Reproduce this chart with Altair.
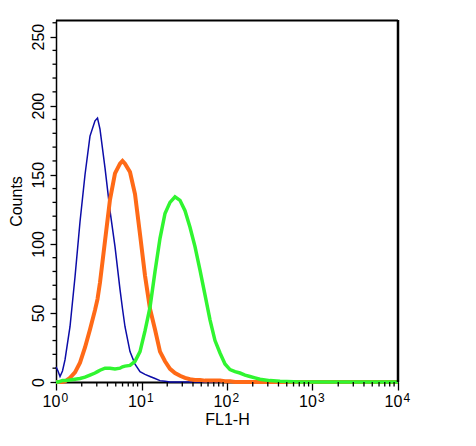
import altair as alt
import pandas as pd

fl1 = [1.00, 1.055, 1.114, 1.191, 1.274, 1.458, 1.668, 1.909, 2.184, 2.498,
       2.858, 3.058, 3.270, 3.742, 4.281, 4.898, 5.604, 5.995, 6.412, 7.336,
       8.395, 9.605, 10.99, 12.57, 14.39, 16.46, 18.83, 21.54, 24.65, 28.20,
       32.27, 36.92, 42.24, 48.33, 55.30, 63.27, 72.38, 82.83, 94.76, 108.4,
       124.1, 141.9, 162.4, 185.8, 212.6, 243.2, 278.3, 318.4, 416.8, 714.3,
       2745, 10000]
blue = [11, 8, 4, 8, 16, 40, 76, 116, 150, 178,
        189, 191, 183, 155, 124, 98, 67, 53, 40, 22,
        13, 7.5, 5.5, 4, 2.5, 1, 0.5, 0, 0, 0,
        0, 0, 0, 0, 0, 0, 0, 0, 0, 0,
        0, 0, 0, 0, 0, 0, 0, 0, 0, 0,
        0, 0]
orange = [0, 0, 0, 0, 0.5, 3, 7, 14, 25, 38,
          52, 60, 72, 102, 132, 151, 158, 160, 158, 152,
          136, 107, 77, 53, 38, 22, 15, 9.5, 6.5, 4.5,
          3, 2, 1.5, 1.5, 1, 1, 1, 1, 0.5, 0.5,
          0, 0, 0, 0, 0, 0, 0, 0, 0, 0,
          0, 0]
green = [0, 0, 0.5, 1, 1, 1.5, 2, 2.5, 3.5, 5,
         6.5, 7.5, 8.5, 10, 10, 9.5, 10, 11, 11.5, 12,
         15, 22, 37, 54, 80, 104, 122, 130, 134, 131.5,
         124, 112, 98, 81, 63, 45, 30, 21, 13, 9,
         7.5, 6.5, 5, 4, 3, 2, 1.5, 1, 0.5, 0,
         0, 0]

x_major = [1, 10, 100, 1000, 10000]
x_exponents = ["0", "1", "2", "3", "4"]
x_minor = [m * 10 ** k for k in range(4) for m in range(2, 10)]
y_major = [0, 50, 100, 150, 200, 250]
y_minor = [v for v in range(10, 261, 10) if v % 50 != 0]

W, H = 342, 362
FONT = "Liberation Sans"

xscale = alt.Scale(type="log", domain=[1, 10000], nice=False)
yscale = alt.Scale(domain=[0, 262], nice=False, zero=False)

xaxis = alt.Axis(values=x_major, title="FL1-H", tickSize=8,
                 labelExpr="'10'", labelOffset=-5,
                 labelFontSize=16, titleFontSize=16, labelPadding=3,
                 titlePadding=2, grid=False, domainColor="black",
                 domainWidth=2, tickColor="black", tickWidth=1.3, labelColor="black",
                 titleColor="black", titleFontWeight="normal",
                 labelFont=FONT, titleFont=FONT, labelFlush=False)
yaxis = alt.Axis(values=y_major, title="Counts", tickSize=6,
                 labelAngle=270, labelAlign="center", labelBaseline="bottom",
                 labelFontSize=16, titleFontSize=16, labelPadding=4,
                 titlePadding=6, grid=False, domainColor="black",
                 domainWidth=1.5, tickColor="black", tickWidth=1.3, labelColor="black",
                 titleColor="black", titleFontWeight="normal",
                 labelFont=FONT, titleFont=FONT, labelFlush=False)

df = pd.DataFrame({"fl1": fl1, "blue": blue, "orange": orange, "green": green})


def curve(col, color, width):
    return alt.Chart(df).mark_line(color=color, strokeWidth=width, interpolate="linear").encode(
        x=alt.X("fl1:Q", scale=xscale, axis=xaxis),
        y=alt.Y(f"{col}:Q", scale=yscale, axis=yaxis))


blue_l = curve("blue", "#0c0ca8", 1.5)
orange_l = curve("orange", "#ff6a17", 4)
green_l = curve("green", "#30f530", 3.5)

xminor = alt.Chart(pd.DataFrame({"fl1": x_minor})).mark_rule(color="black", strokeWidth=1.3).encode(
    x=alt.X("fl1:Q", scale=xscale, axis=xaxis), y=alt.value(H), y2=alt.value(H + 4.5))
yminor = alt.Chart(pd.DataFrame({"cnt": y_minor})).mark_rule(color="black", strokeWidth=1.3).encode(
    y=alt.Y("cnt:Q", scale=yscale, axis=yaxis), x=alt.value(0), x2=alt.value(-3.5))

exps = alt.Chart(pd.DataFrame({"fl1": x_major, "e": x_exponents})).mark_text(
    align="left", baseline="alphabetic", fontSize=12, font=FONT, color="black", dx=5.5
).encode(x=alt.X("fl1:Q", scale=xscale, axis=xaxis), y=alt.value(H + 20), text="e:N")

top_border = alt.Chart(pd.DataFrame({"k": [0]})).mark_rule(color="black", strokeWidth=2).encode(
    x=alt.value(0), x2=alt.value(W), y=alt.value(0.5))
right_border = alt.Chart(pd.DataFrame({"k": [0]})).mark_rule(color="black", strokeWidth=2.5).encode(
    x=alt.value(W), y=alt.value(0), y2=alt.value(H))

chart = alt.layer(blue_l, orange_l, green_l, xminor, yminor, exps, top_border, right_border).properties(
    width=W, height=H,
    background="white",
    autosize=alt.AutoSizeParams(type="none"),
    padding={"left": 48, "top": 12, "right": 60, "bottom": 50},
).configure_view(stroke="black", strokeWidth=1)

chart.save("out.html", embed_options={"renderer": "svg", "actions": False})
